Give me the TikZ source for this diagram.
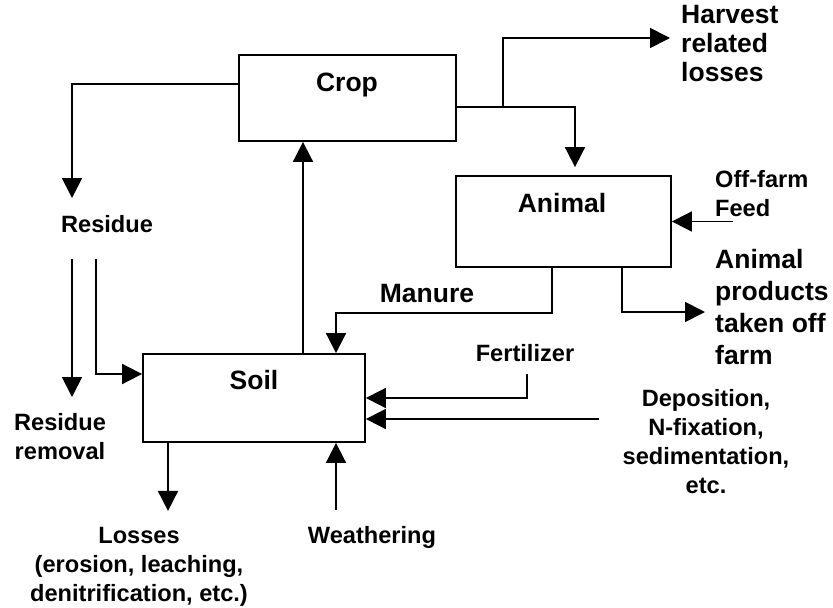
\documentclass[tikz,border=0pt]{standalone}
\usepackage{fontspec}
\setmainfont{Liberation Sans}
\usetikzlibrary{arrows.meta}
\begin{document}
\begin{tikzpicture}[x=1pt,y=-1pt,
  boxs/.style={draw, line width=1.8pt, inner sep=0pt},
  arr/.style={draw, line width=1.8pt, -{Triangle[length=20pt,width=20pt]}},
  txts/.style={inner sep=0pt, font=\fontsize{23.6}{29}\selectfont\bfseries},
  txtb/.style={inner sep=0pt, font=\fontsize{26.5}{29}\selectfont\bfseries}]
\useasboundingbox (0,0) rectangle (833,608);
% boxes
\node[boxs, minimum width=217pt, minimum height=86pt] (crop) at (347.5,98) {};
\node[boxs, minimum width=215pt, minimum height=91pt] (animal) at (563.5,221.5) {};
\node[boxs, minimum width=222pt, minimum height=88pt] (soil) at (254,398) {};
% box titles
\node[txtb] (croplbl) at (347,85) {Crop};
\node[txtb] (animallbl) at (562,203) {Animal};
\node[txtb] (soillbl) at (254,380) {Soil};
% labels
\node[txts] (residue) at (107,224) {Residue};
\node[txts, align=center] (removal) at (60,437) {Residue\\removal};
\node[txts, align=center] (losses) at (139,567) {Losses\\(erosion, leaching,\\denitrification, etc.)};
\node[txts] (weathering) at (372,537) {Weathering};
\node[txtb] (manure) at (427,294) {Manure};
\node[txts] (fertilizer) at (525,353) {Fertilizer};
\node[txts, align=center] (deposition) at (706,442) {Deposition,\\N-fixation,\\sedimentation,\\etc.};
\node[txts, align=left, anchor=west] (feed) at (715,194) {Off-farm\\Feed};
\node[txtb, align=left, anchor=west, font=\fontsize{26.5}{32}\selectfont\bfseries] (products) at (715,307) {Animal\\products\\taken off\\farm};
\node[txtb, align=left, anchor=west] (harvest) at (681,44) {Harvest\\related\\losses};
% free ends
\coordinate (resin) at (72,198);
\coordinate (remstart) at (72,259);
\coordinate (remend) at (72,397);
\coordinate (rsoil) at (96,259);
\coordinate (hbranch) at (503,107);
\coordinate (hend) at (670,38);
\coordinate (feedstart) at (733,221.5);
\coordinate (prodend) at (705,312);
\coordinate (fertstart) at (527,374);
\coordinate (depstart) at (599,419);
\coordinate (weathstart) at (336,510);
% connectors
\draw[arr] ([yshift=14pt]crop.west) -| (resin);
\draw[arr] (remstart) -- (remend);
\draw[arr] (rsoil) |- ([yshift=24pt]soil.west);
\draw[arr] ([xshift=49pt]soil.north) -- ([xshift=49pt]soil.north |- crop.south);
\draw[arr] ([yshift=-9pt]crop.east) -| ([xshift=11.5pt,yshift=8pt]animal.north);
\draw[arr] (hbranch) |- (hend);
\draw[arr] (feedstart) -- (animal.east);
\draw[arr] ([xshift=58.5pt]animal.south) |- (prodend);
\draw[arr] ([xshift=-11.5pt]animal.south) -- ++(0,45) -| ([xshift=82pt]soil.north);
\draw[arr] (fertstart) |- (soil.east);
\draw[arr] (depstart) -- ([yshift=-21pt]soil.east);
\draw[arr] ([xshift=-86pt]soil.south) -- ++(0,68);
\draw[arr] (weathstart) -- ([xshift=82pt]soil.south);
\end{tikzpicture}
\end{document}
